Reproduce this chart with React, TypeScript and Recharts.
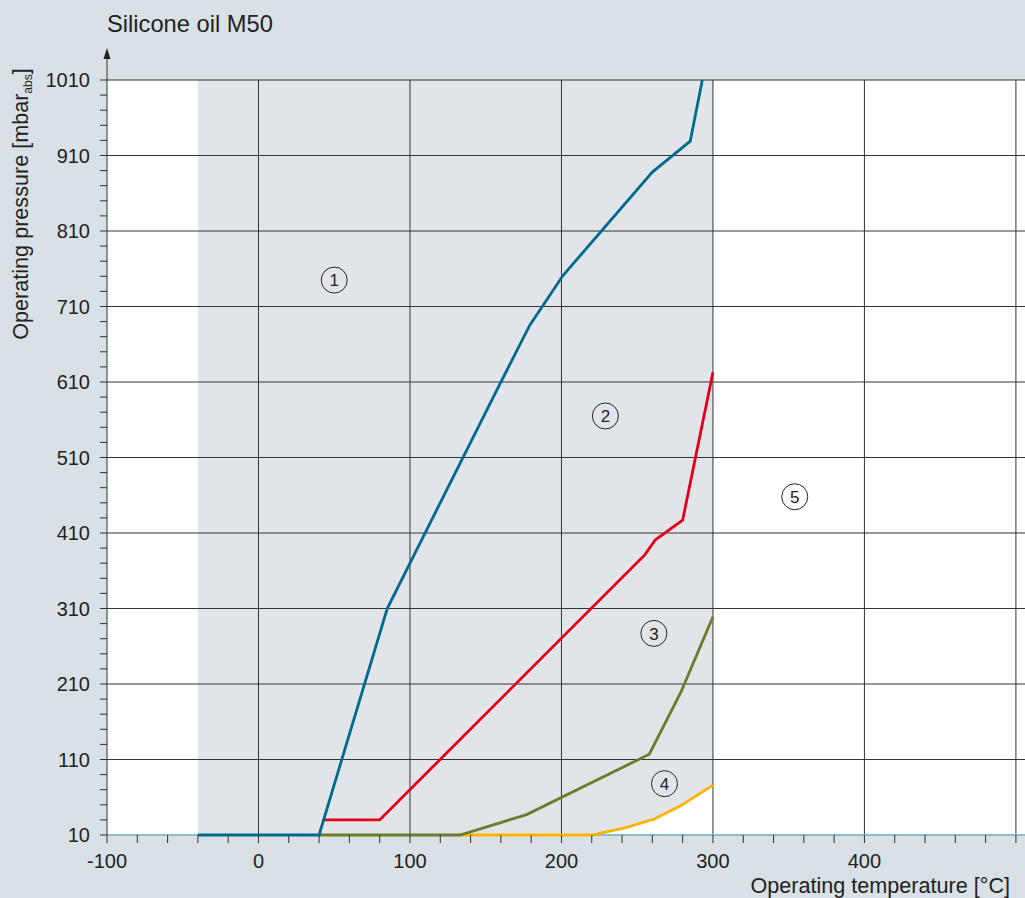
import React from "react"
import {
  ComposedChart,
  Area,
  Line,
  Scatter,
  XAxis,
  YAxis,
  ReferenceLine,
} from "recharts"

const FONT = '"Liberation Sans", Arial, sans-serif'

// Curve 1 (blue)
const blueT = [-40, 40, 85, 159, 179, 201, 260, 285, 293]
const blueP = [10, 10, 310, 606, 685, 751, 888, 929, 1010]
// Curve 2 (red)
const redT = [43, 80, 255, 262, 280, 300]
const redP = [30, 30, 381, 401, 427, 623]
// Curve 3 (green)
const greenT = [40, 133, 177, 258, 279, 300]
const greenP = [10, 10, 37, 117, 200, 299]
// Curve 4 (yellow)
const yellowT = [133, 220, 232, 243, 261, 278, 289, 300]
const yellowP = [10, 10, 15, 20, 31, 48, 62, 76]

// shaded operating range: from -40 °C up to the yellow curve
const shadeStartT = -40
const pressureMin = 10
const pressureMax = 1010

// region markers
const markLabels = ["1", "2", "3", "4", "5"]
const markT = [50, 229, 261, 268, 354]
const markP = [745, 565, 277, 78, 458]

const xTicks = [
  -100, -80, -60, -40, -20, 0, 20, 40, 60, 80, 100, 120, 140, 160, 180, 200, 220, 240, 260, 280, 300, 320, 340,
  360, 380, 400, 420, 440, 460, 480, 500,
]
const xLabelled = [-100, 0, 100, 200, 300, 400]
const xGrid = [0, 100, 200, 300, 400, 500]

const yTicks = [
  10, 30, 50, 70, 90, 110, 130, 150, 170, 190, 210, 230, 250, 270, 290, 310, 330, 350, 370, 390, 410, 430, 450,
  470, 490, 510, 530, 550, 570, 590, 610, 630, 650, 670, 690, 710, 730, 750, 770, 790, 810, 830, 850, 870, 890,
  910, 930, 950, 970, 990, 1010,
]
const yLabelled = [10, 110, 210, 310, 410, 510, 610, 710, 810, 910, 1010]
const yGrid = [110, 210, 310, 410, 510, 610, 710, 810, 910, 1010]

const toPoints = (ts: number[], ps: number[]) => ts.map((t, i) => ({ t, p: ps[i] }))

const blueData = toPoints(blueT, blueP)
const redData = toPoints(redT, redP)
const greenData = toPoints(greenT, greenP)
const yellowData = toPoints(yellowT, yellowP)

const shadeData = [
  { t: shadeStartT, band: [yellowP[0], pressureMax] },
  ...yellowT.slice(1).map((t, i) => ({ t, band: [yellowP[i + 1], pressureMax] })),
]

const markData = markLabels.map((label, i) => ({ t: markT[i], p: markP[i], label }))

const MarkShape = (props: any) => {
  const { cx, cy, payload } = props
  return (
    <g>
      <circle cx={cx} cy={cy} r={13} fill="none" stroke="#222" strokeWidth={1} />
      <text x={cx} y={cy} dy="0.36em" textAnchor="middle" fontSize={17} fill="#222" fontFamily={FONT}>
        {payload.label}
      </text>
    </g>
  )
}

export default function App() {
  return (
    <div
      style={{
        position: "absolute",
        left: 0,
        top: 0,
        width: 1025,
        height: 898,
        background: "#d9e0e6",
        fontFamily: FONT,
        overflow: "hidden",
      }}
    >
      <ComposedChart width={1025} height={898} margin={{ top: 80, right: 0, bottom: 0, left: 0 }}>
        <rect x={107} y={80} width={918} height={755} fill="#ffffff" />
        <XAxis
          dataKey="t"
          type="number"
          domain={[-100, 506]}
          ticks={xTicks}
          interval={0}
          height={63}
          tickSize={8}
          tickMargin={11}
          tickLine={{ stroke: "#333" }}
          axisLine={false}
          tick={{ fill: "#222", fontSize: 20, fontFamily: FONT }}
          tickFormatter={(v: number) => (xLabelled.includes(v) ? String(v) : "")}
        />
        <YAxis
          dataKey="p"
          type="number"
          domain={[10, 1010]}
          ticks={yTicks}
          interval={0}
          width={107}
          tickSize={7}
          tickMargin={10}
          tickLine={{ stroke: "#333" }}
          axisLine={{ stroke: "#333" }}
          tick={{ fill: "#222", fontSize: 20, fontFamily: FONT }}
          tickFormatter={(v: number) => (yLabelled.includes(v) ? String(v) : "")}
        />
        <Area
          data={shadeData}
          dataKey="band"
          type="linear"
          stroke="none"
          fill="#e1e5e9"
          fillOpacity={1}
          isAnimationActive={false}
        />
        {xGrid.map((v) => (
          <ReferenceLine key={`vx${v}`} x={v} stroke="#333" strokeWidth={1} />
        ))}
        {yGrid.map((v) => (
          <ReferenceLine key={`hy${v}`} y={v} stroke="#333" strokeWidth={1} />
        ))}
        <ReferenceLine y={pressureMin} stroke="#8dbccd" strokeWidth={2} />
        <Line data={yellowData} dataKey="p" type="linear" stroke="#ffb400" strokeWidth={2.8} dot={false} isAnimationActive={false} />
        <Line data={greenData} dataKey="p" type="linear" stroke="#6a7d2b" strokeWidth={2.8} dot={false} isAnimationActive={false} />
        <Line data={redData} dataKey="p" type="linear" stroke="#e2001a" strokeWidth={2.8} dot={false} isAnimationActive={false} />
        <Line data={blueData} dataKey="p" type="linear" stroke="#00698f" strokeWidth={2.8} dot={false} isAnimationActive={false} />
        <Scatter data={markData} dataKey="p" shape={<MarkShape />} isAnimationActive={false} />
      </ComposedChart>
      <svg
        width={1025}
        height={898}
        style={{ position: "absolute", left: 0, top: 0, pointerEvents: "none" }}
        fontFamily={FONT}
      >
        <text x={107} y={32} fontSize={23.7} fill="#222">
          Silicone oil M50
        </text>
        <line x1={107} y1={80} x2={107} y2={56} stroke="#333" strokeWidth={1} />
        <polygon points="107,48 103.5,59 110.5,59" fill="#222" />
        <text x={28} y={204} fontSize={21.6} fill="#222" textAnchor="middle" transform="rotate(-90 28 204)">
          Operating pressure [mbar
          <tspan fontSize={12} dy={4}>
            abs
          </tspan>
          <tspan dy={-4}>]</tspan>
        </text>
        <text x={1010} y={893} fontSize={21.6} fill="#222" textAnchor="end">
          Operating temperature [°C]
        </text>
      </svg>
    </div>
  )
}
